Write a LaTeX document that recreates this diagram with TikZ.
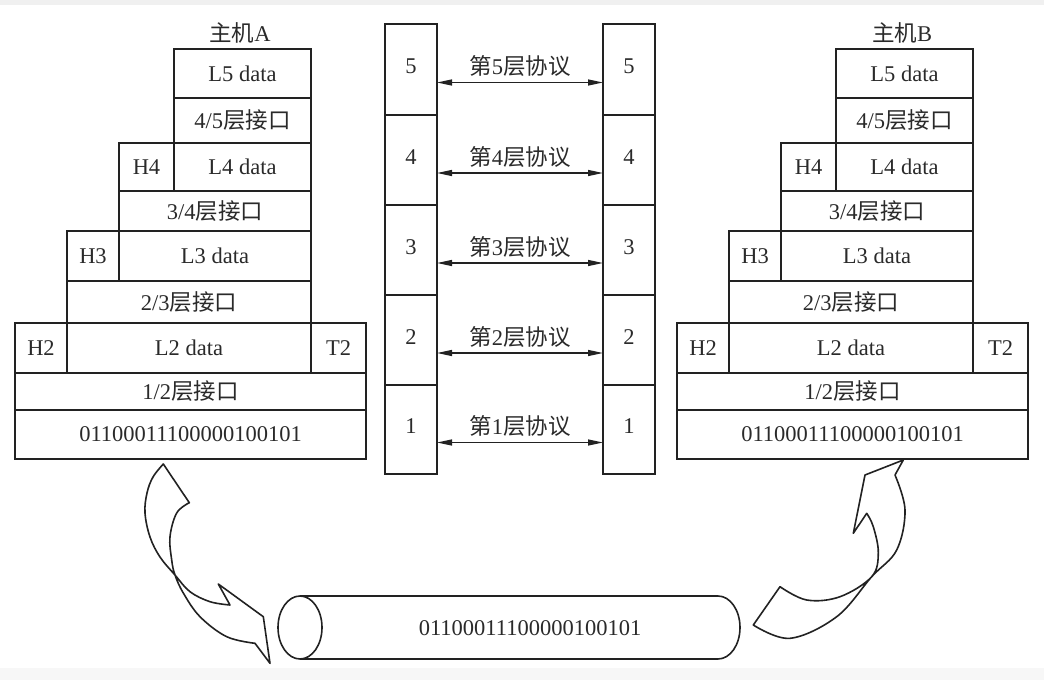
\documentclass[tikz,border=0pt]{standalone}
\usepackage{fontspec}
\setmainfont{Liberation Serif}
\newfontfamily\cjk{Noto Sans CJK SC}
\usetikzlibrary{arrows.meta}
\definecolor{ink}{HTML}{222222}
\definecolor{txt}{HTML}{2a2a2a}
\newcommand\zh[1]{{\cjk #1}}
\newcommand\mkcell[6]{\node[cell,minimum width={(#3-#2)*1pt},minimum height={(#5-#4)*1pt}] (#1) at ({(#2+#3)/2},{(#4+#5)/2}) {#6};}
\newcommand\mkstack[3]{%
\begin{scope}[xshift=#2pt]
\node[title] (#1title) at (240,33) {\zh{主机}#3};
\mkcell{#1L5}{174}{311}{49}{98}{L5 data}
\mkcell{#1I45}{174}{311}{98}{143}{4/5\zh{层接口}}
\mkcell{#1H4}{119}{174}{143}{191}{H4}
\mkcell{#1L4}{174}{311}{143}{191}{L4 data}
\mkcell{#1I34}{119}{311}{191}{231}{3/4\zh{层接口}}
\mkcell{#1H3}{67}{119}{231}{281}{H3}
\mkcell{#1L3}{119}{311}{231}{281}{L3 data}
\mkcell{#1I23}{67}{311}{281}{323}{2/3\zh{层接口}}
\mkcell{#1H2}{15}{67}{323}{373}{H2}
\mkcell{#1L2}{67}{311}{323}{373}{L2 data}
\mkcell{#1T2}{311}{366}{323}{373}{T2}
\mkcell{#1I12}{15}{366}{373}{410}{1/2\zh{层接口}}
\mkcell{#1bits}{15}{366}{410}{459}{01100011100000100101}
\end{scope}}
\begin{document}
\begin{tikzpicture}[x=1pt,y=-1pt,
  cell/.style={draw=ink,line width=1.6pt,inner sep=0pt,outer sep=0pt,text=txt,font=\fontsize{22.5}{26}\selectfont},
  title/.style={inner sep=0pt,text=txt,font=\fontsize{22.5}{26}\selectfont},
  proto/.style={draw=ink,line width=1.3pt,{Triangle[length=15pt,width=6pt]}-{Triangle[length=15pt,width=6pt]}},
  plabel/.style={text=txt,inner sep=0pt,font=\fontsize{22.5}{26}\selectfont},
  num/.style={text=txt,inner sep=0pt,font=\fontsize{22.5}{26}\selectfont},
  twist/.style={draw=ink,line width=1.6pt,line join=round,fill=white},
  wirestyle/.style={draw=ink,line width=1.6pt}]
\useasboundingbox (0,0) rectangle (1044,680);
\fill[gray!12] (0,0) rectangle (1044,5);
\fill[gray!6] (0,668) rectangle (1044,680);
% host stacks
\mkstack{A}{0}{A}
\mkstack{B}{662}{B}
% peer columns
\mkcell{P5}{385}{437}{24}{115}{}
\mkcell{P4}{385}{437}{115}{205}{}
\mkcell{P3}{385}{437}{205}{295}{}
\mkcell{P2}{385}{437}{295}{385}{}
\mkcell{P1}{385}{437}{385}{474}{}
\mkcell{Q5}{603}{655}{24}{115}{}
\mkcell{Q4}{603}{655}{115}{205}{}
\mkcell{Q3}{603}{655}{205}{295}{}
\mkcell{Q2}{603}{655}{295}{385}{}
\mkcell{Q1}{603}{655}{385}{474}{}
\foreach \n in {5,4,3,2,1}{
  \node[num] (pn\n) at ([yshift=3pt]P\n.center) {\n};
  \node[num] (qn\n) at ([yshift=3pt]Q\n.center) {\n};
  \draw[proto] ([yshift=-13pt]P\n.east) -- node[plabel,midway,above=5pt] (proto\n) {\zh{第}\n\zh{层协议}} ([yshift=-13pt]Q\n.west);
}
% transmission medium (cylinder)
\draw[wirestyle] (300,596) -- (718,596) arc[start angle=-90,end angle=90,x radius=22,y radius=31.5] -- (300,659);
\draw[wirestyle] (300,627.5) ellipse [x radius=22,y radius=31.5];
\node[plabel] (wire) at (530,628) {01100011100000100101};
% twisted arrow down (host A to medium)
\draw[twist] (163.3,464) -- (189.3,502.7)
  -- plot[smooth,tension=0.6] coordinates {(189.3,502.7) (176.7,513) (170,536.7) (171.7,560) (175,575) (183.3,593) (200,616.7) (226.7,636.7) (255,643.3)}
  -- (270,663.3) -- (263.3,616.7) -- (218.3,584) -- (230,605)
  -- plot[smooth,tension=0.6] coordinates {(230,605) (210,601.7) (190,591.7) (175,575) (160,557) (150,537) (145,513) (147,493) (153,477) (163.3,464)}
  -- cycle;
% twisted arrow up (medium to host B)
\draw[twist] (753.3,625) -- (780,586.7)
  -- plot[smooth,tension=0.6] coordinates {(780,586.7) (806.7,600) (840,596.7) (871.7,576.7) (878.3,553) (873.3,526.7) (866.7,513.3)}
  -- (853.3,533.3) -- (865,475) -- (903.3,460) -- (895,475)
  -- plot[smooth,tension=0.6] coordinates {(895,475) (905,510) (896.7,550) (871.7,576.7) (836.7,616.7) (790,638.3) (753.3,625)}
  -- cycle;
\end{tikzpicture}
\end{document}
